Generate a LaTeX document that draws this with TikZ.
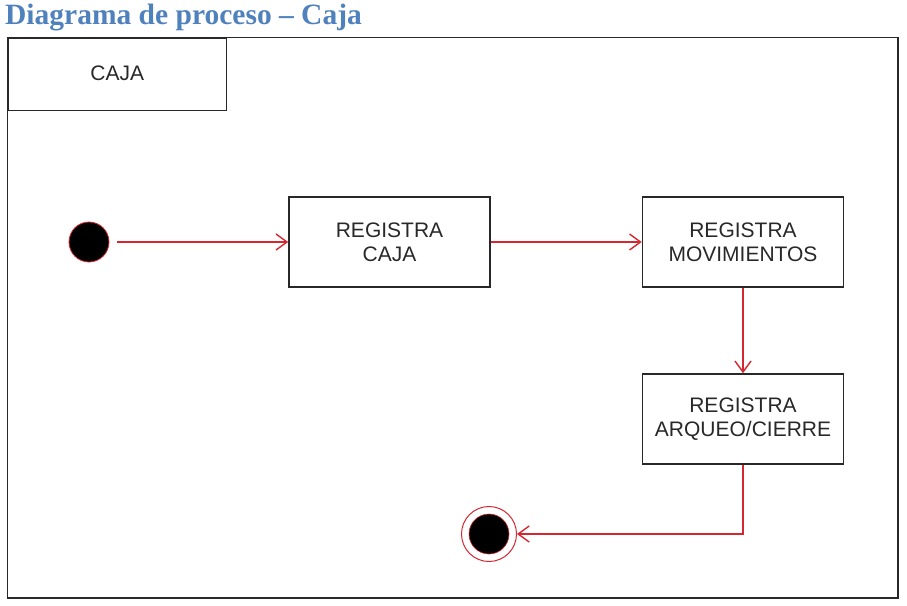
\documentclass[tikz,border=0pt]{standalone}
\usepackage{fontspec}
\setmainfont{Liberation Sans}
\newfontfamily\titlefont{Liberation Serif}
\usetikzlibrary{arrows.meta}
\definecolor{titleblue}{RGB}{79,129,189}
\definecolor{flowred}{RGB}{214,38,48}
\definecolor{boxline}{RGB}{40,40,40}
\tikzset{
  estado/.style={draw=boxline, line width=1.6pt, minimum width=201pt, minimum height=90pt,
    align=center, inner sep=0pt, text=boxline, font=\fontsize{21}{24}\selectfont},
  flujo/.style={draw=flowred, line width=1.4pt, -{Straight Barb[length=11pt,width=16pt]}},
}
\begin{document}
\begin{tikzpicture}[x=1pt, y=-1pt]
    \useasboundingbox (0, 0) rectangle (907, 605);
    \node[anchor=base west, inner sep=0pt, text=titleblue,
      font=\titlefont\bfseries\fontsize{29.5}{30}\selectfont] (titulo) at (5, 24) {Diagrama de proceso – Caja};
    \draw[draw=boxline, line width=1.6pt] (7.5, 37.5) rectangle (898, 598);
    \node[estado, anchor=north west, minimum width=218pt, minimum height=72pt] (caja) at (7.5, 37.5) {\raisebox{2.5pt}{CAJA}};

    \node[circle, fill=black, draw=flowred, line width=0.8pt, minimum size=40pt, inner sep=0pt] (inicio) at (89, 242) {};
    \node[estado] (reg_caja) at (389.5, 242) {REGISTRA\\CAJA};
    \node[estado] (reg_mov) at (743, 242) {REGISTRA\\MOVIMIENTOS};
    \node[estado] (reg_arq) at (743, 419) {REGISTRA\\ARQUEO/CIERRE};
    \node[circle, draw=flowred, line width=1pt, minimum size=55pt, inner sep=0pt] (fin) at (489, 534) {};
    \node[circle, fill=black, draw=flowred, line width=0.6pt, minimum size=40pt, inner sep=0pt] (fin_in) at (fin) {};

    \draw[flujo, shorten <=8pt] (inicio) -- (reg_caja);
    \draw[flujo] (reg_caja) -- (reg_mov);
    \draw[flujo] (reg_mov) -- (reg_arq);
    \draw[flujo] (reg_arq) |- (fin);
\end{tikzpicture}
\end{document}
